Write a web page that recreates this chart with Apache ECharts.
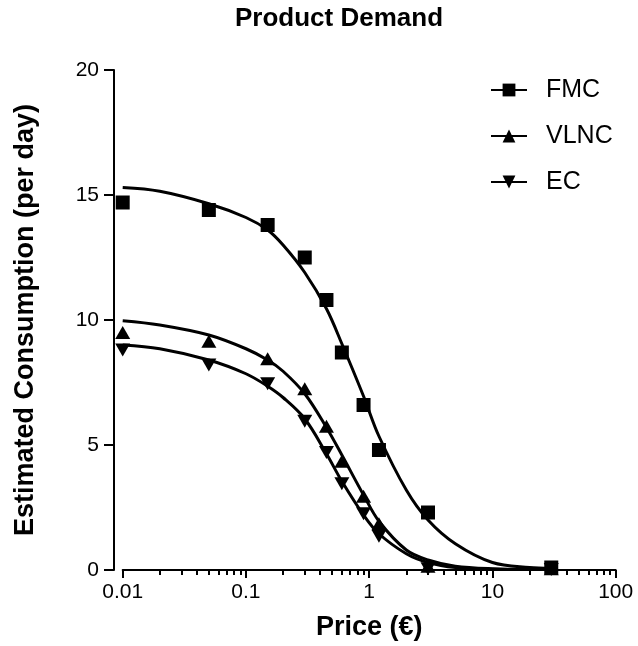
<!DOCTYPE html>
<html>
<head>
<meta charset="utf-8">
<script src="https://cdn.jsdelivr.net/npm/echarts@6/dist/echarts.min.js"></script>
<style>
  html, body { margin: 0; padding: 0; background: #fff; }
</style>
</head>
<body>
<div id="myChart" style="width: 638px; height: 646px;"></div>
<script>
// measured prices (€)
var prices = [0.01, 0.05, 0.15, 0.3, 0.45, 0.6, 0.9, 1.2, 3, 30];
var fmc = [14.7, 14.4, 13.8, 12.5, 10.8, 8.7, 6.6, 4.8, 2.3, 0.1];
var vlnc = [9.5, 9.15, 8.45, 7.25, 5.75, 4.35, 2.95, 1.85, 0.15, 0.05];
var ec = [8.8, 8.2, 7.45, 5.95, 4.7, 3.45, 2.25, 1.35, 0.05, 0.02];

// fitted curves
var fitPrices = [0.01, 0.02, 0.05, 0.1, 0.15, 0.2, 0.3, 0.45, 0.6, 0.9, 1.2, 2, 3, 5, 10, 20, 30];
var fmcFit = [15.3, 15.15, 14.65, 14.1, 13.6, 13.0, 11.9, 10.45, 9.05, 6.95, 5.35, 3.2, 2.0, 1.05, 0.3, 0.1, 0.07];
var vlncFit = [9.97, 9.8, 9.4, 8.85, 8.4, 7.95, 7.05, 5.7, 4.6, 3.0, 1.95, 0.8, 0.4, 0.15, 0.05, 0.03, 0.03];
var ecFit = [9.0, 8.85, 8.4, 7.85, 7.35, 6.9, 6.05, 4.65, 3.55, 2.2, 1.45, 0.65, 0.3, 0.1, 0.03, 0.02, 0.02];

var yTicks = [0, 5, 10, 15, 20];
var minorTicks = [0.02, 0.03, 0.04, 0.05, 0.06, 0.07, 0.08, 0.09,
  0.2, 0.3, 0.4, 0.5, 0.6, 0.7, 0.8, 0.9,
  2, 3, 4, 5, 6, 7, 8, 9,
  20, 30, 40, 50, 60, 70, 80, 90];

var font = "'Liberation Sans', Arial, sans-serif";
var downTri = "path://M0,0 L10,0 L5,9 Z";

function pairs(xs, ys) {
  return xs.map(function (x, i) { return [x, ys[i]]; });
}

var myChart = echarts.init(document.getElementById("myChart"));

var series = [];
var defs = [
  { name: "FMC", pts: fmc, fit: fmcFit, symbol: "rect", size: 14 },
  { name: "VLNC", pts: vlnc, fit: vlncFit, symbol: "triangle", size: [15, 13] },
  { name: "EC", pts: ec, fit: ecFit, symbol: downTri, size: [15, 13] }
];
// curves first so the legend takes its icon (line + symbol) from them
defs.forEach(function (d) {
  series.push({
    name: d.name,
    type: "line",
    xAxisIndex: 0,
    data: pairs(fitPrices, d.fit),
    smooth: 0.35,
    symbol: d.symbol,
    showSymbol: false,
    lineStyle: { color: "#000", width: 3 },
    itemStyle: { color: "#000" },
    z: 2,
    silent: true
  });
});
defs.forEach(function (d) {
  series.push({
    name: d.name,
    type: "scatter",
    xAxisIndex: 0,
    data: pairs(prices, d.pts),
    symbol: d.symbol,
    symbolSize: d.size,
    itemStyle: { color: "#000", opacity: 1 },
    z: 3
  });
});

myChart.setOption({
  animation: false,
  title: {
    text: "Product Demand",
    left: 235,
    top: 6,
    padding: 0,
    textStyle: { fontFamily: font, fontSize: 26, fontWeight: "bold", color: "#000" }
  },
  legend: {
    data: ["FMC", "VLNC", "EC"],
    orient: "vertical",
    left: 490,
    top: 77,
    padding: 0,
    itemWidth: 36,
    itemHeight: 16,
    itemGap: 20,
    textStyle: {
      fontFamily: font, fontSize: 25, color: "#000",
      lineHeight: 26, padding: [0, 0, 0, 14]
    }
  },
  grid: {
    left: 122.7,
    right: 22.3,
    top: 70,
    bottom: 76
  },
  xAxis: [
    {
      type: "log",
      logBase: 10,
      min: 0.01,
      max: 100,
      position: "bottom",
      name: "Price (€)",
      nameLocation: "middle",
      nameGap: 44,
      nameTextStyle: { fontFamily: font, fontSize: 27, fontWeight: "bold", color: "#000" },
      axisLine: { lineStyle: { color: "#000", width: 2 } },
      axisTick: { show: true, inside: false, length: 8, lineStyle: { color: "#000", width: 2 } },
      axisLabel: {
        fontFamily: font, fontSize: 21, color: "#000", margin: 12,
        formatter: function (v) { return String(+v.toPrecision(3)); }
      },
      splitLine: { show: false },
      minorTick: { show: false }
    },
    {
      type: "log",
      logBase: 10,
      min: 0.01,
      max: 100,
      position: "bottom",
      axisLine: { show: false },
      axisTick: {
        show: true, inside: false, length: 5,
        customValues: minorTicks,
        lineStyle: { color: "#000", width: 2 }
      },
      axisLabel: { show: false },
      splitLine: { show: false }
    }
  ],
  yAxis: {
    type: "value",
    min: 0,
    max: 20,
    interval: 5,
    offset: 8.7,
    name: "Estimated Consumption (per day)",
    nameLocation: "middle",
    nameGap: 75,
    nameTextStyle: { fontFamily: font, fontSize: 27, fontWeight: "bold", color: "#000" },
    axisLine: { show: true, lineStyle: { color: "#000", width: 2 } },
    axisTick: {
      show: true, inside: false, length: 10,
      customValues: yTicks,
      lineStyle: { color: "#000", width: 2 }
    },
    axisLabel: { fontFamily: font, fontSize: 21, color: "#000", margin: 15 },
    splitLine: { show: false }
  },
  series: series
});
</script>
</body>
</html>
